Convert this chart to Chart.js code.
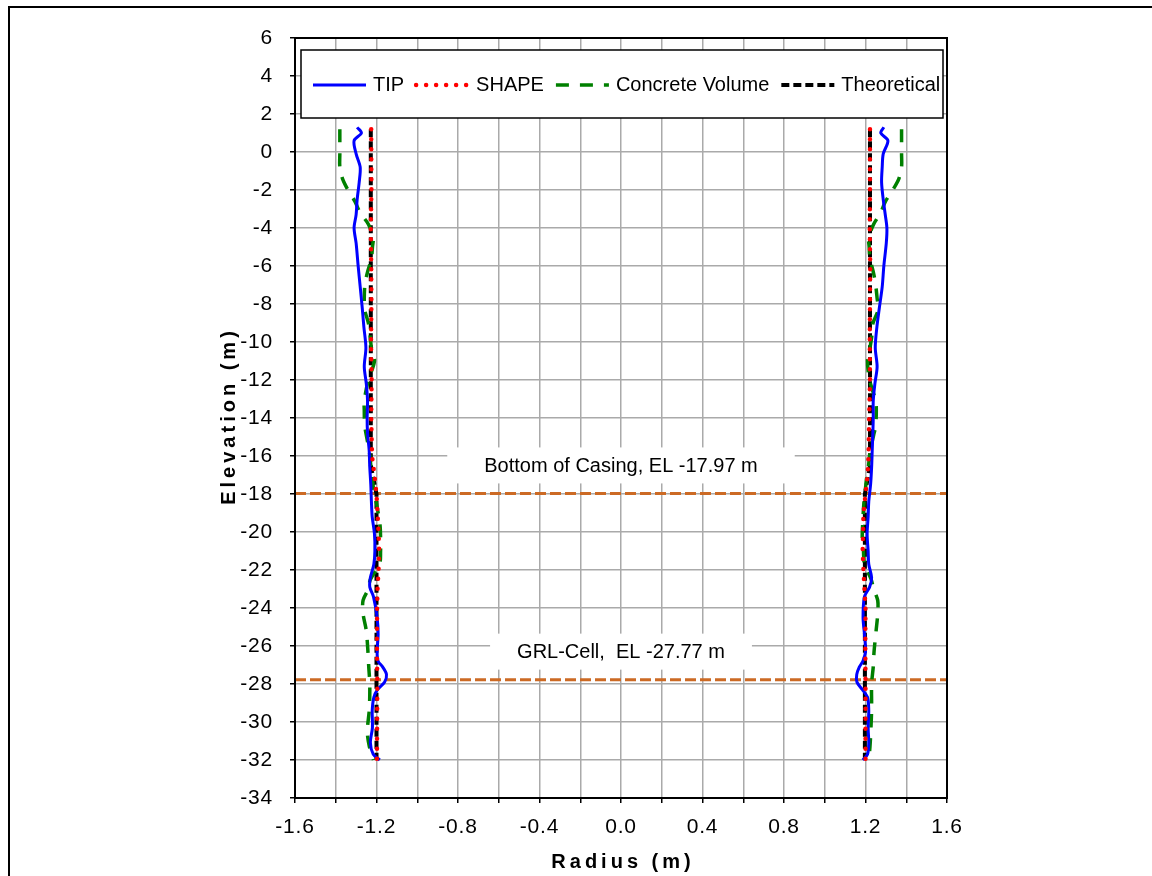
<!DOCTYPE html>
<html>
<head>
<meta charset="utf-8">
<title>Radius vs Elevation</title>
<script src="https://cdn.jsdelivr.net/npm/chart.js@4.4.1/dist/chart.umd.min.js"></script>
<style>
  html, body { margin: 0; padding: 0; background: #fff; overflow: hidden; }
  #marco { position: absolute; left: 8px; top: 6px; width: 1200px; height: 900px; border: 2px solid #000; }
  #grafico { position: absolute; left: 0; top: 0; }
</style>
</head>
<body>
<div id="marco"></div>
<canvas id="grafico" width="1152" height="876"></canvas>
<script>
//* nombres de las series
const nombresSeries = ['TIP', 'SHAPE', 'Concrete Volume', 'Theoretical'];

//* TIP: elevación (m) y radio izquierdo / derecho (m)
const tipElev = [1.3, 1.0, 0.6, -0.1, -0.8, -1.6, -2.5, -3.3, -4.0, -4.8, -6.0, -7.1, -8.2, -9.2, -10.3,
    -11.3, -12.2, -13.1, -14.0, -14.8, -15.7, -16.6, -17.5, -18.4, -19.2, -20.1, -21.0, -21.7, -22.4,
    -22.9, -23.4, -24.5, -25.4, -26.3, -26.8, -27.1, -27.5, -27.9, -28.3, -28.7, -29.4, -30.3, -31.1,
    -31.7, -32.0];
const tipIzq = [-1.295, -1.274, -1.31, -1.30, -1.28, -1.285, -1.295, -1.30, -1.31, -1.30, -1.29, -1.28,
    -1.27, -1.262, -1.252, -1.26, -1.25, -1.244, -1.246, -1.244, -1.236, -1.233, -1.228, -1.225, -1.221,
    -1.21, -1.208, -1.213, -1.23, -1.233, -1.215, -1.197, -1.192, -1.197, -1.192, -1.17, -1.151, -1.16,
    -1.195, -1.213, -1.221, -1.22, -1.23, -1.216, -1.184];
const tipDer = [1.29, 1.275, 1.31, 1.287, 1.282, 1.279, 1.287, 1.297, 1.305, 1.302, 1.29, 1.282, 1.268,
    1.256, 1.248, 1.257, 1.246, 1.238, 1.238, 1.236, 1.233, 1.23, 1.225, 1.216, 1.213, 1.208, 1.213,
    1.216, 1.23, 1.22, 1.195, 1.188, 1.195, 1.2, 1.187, 1.17, 1.157, 1.158, 1.185, 1.21, 1.216, 1.213,
    1.216, 1.21, 1.187];

//* SHAPE
const shapeElev = [1.2, -2, -4, -6, -8, -10, -12, -14, -16, -17, -18, -19, -20, -21, -22, -23, -24, -26,
    -28, -30, -32];
const shapeIzq = [-1.226, -1.225, -1.228, -1.226, -1.225, -1.227, -1.224, -1.226, -1.222, -1.21, -1.2,
    -1.195, -1.19, -1.187, -1.19, -1.195, -1.197, -1.198, -1.196, -1.197, -1.198];
const shapeDer = [1.222, 1.222, 1.221, 1.223, 1.222, 1.221, 1.222, 1.218, 1.215, 1.21, 1.2, 1.19, 1.188,
    1.186, 1.19, 1.195, 1.2, 1.199, 1.2, 1.2, 1.2];

//* Concrete Volume
const concretoElev = [1.2, 0.5, -0.1, -0.8, -1.4, -2.0, -2.6, -3.2, -3.8, -4.5, -5.0, -5.6, -6.4, -7.0,
    -7.7, -8.3, -9.0, -9.6, -10.3, -11.0, -12.0, -13.1, -13.6, -14.4, -14.9, -15.8, -16.5, -17.2, -17.7,
    -18.5, -19.6, -20.3, -21.0, -21.7, -22.5, -23.0, -23.6, -24.3, -25.2, -26.3, -27.1, -28.0, -29.3,
    -30.5, -31.3, -32.0];
const concretoIzq = [-1.38, -1.38, -1.38, -1.38, -1.367, -1.34, -1.306, -1.28, -1.24, -1.216, -1.22,
    -1.225, -1.246, -1.257, -1.26, -1.258, -1.24, -1.232, -1.225, -1.21, -1.24, -1.26, -1.26, -1.258,
    -1.25, -1.235, -1.228, -1.22, -1.215, -1.2, -1.183, -1.18, -1.18, -1.185, -1.23, -1.24, -1.266,
    -1.266, -1.25, -1.242, -1.238, -1.233, -1.235, -1.245, -1.235, -1.215];
const concretoDer = [1.377, 1.377, 1.377, 1.377, 1.364, 1.334, 1.298, 1.274, 1.24, 1.216, 1.218, 1.222,
    1.24, 1.25, 1.257, 1.262, 1.237, 1.232, 1.222, 1.21, 1.22, 1.25, 1.253, 1.25, 1.24, 1.222, 1.215,
    1.205, 1.2, 1.192, 1.186, 1.184, 1.19, 1.195, 1.228, 1.24, 1.26, 1.26, 1.252, 1.242, 1.238, 1.23,
    1.23, 1.226, 1.222, 1.216];

//* Theoretical
const teoricoElev = [1.2, -16.5, -18.0, -32];
const teoricoIzq = [-1.228, -1.228, -1.2, -1.2];
const teoricoDer = [1.222, 1.222, 1.197, 1.197];

//* líneas de referencia
const elevCamisa = -17.97;
const elevCelda = -27.77;
const textosReferencia = ['Bottom of Casing, EL -17.97 m', 'GRL-Cell,  EL -27.77 m'];
const limitesRadio = [-1.6, 1.6];
const limitesElev = [-34, 6];

const fuente = '"Liberation Sans", Arial, sans-serif';

//* estilos de cada serie
const estilos = [
    { borderColor: '#0000ff', borderWidth: 3, borderDash: [], borderCapStyle: 'butt', tension: 0.3, order: 2 },
    { borderColor: '#ff0000', borderWidth: 4.5, borderDash: [0, 10], borderCapStyle: 'round', tension: 0, order: 1 },
    { borderColor: '#008000', borderWidth: 3.5, borderDash: [13, 11], borderCapStyle: 'butt', tension: 0.3, order: 3 },
    { borderColor: '#000000', borderWidth: 4, borderDash: [8, 4], borderCapStyle: 'butt', tension: 0, order: 4 }
];

function puntos(elev, radio) {
    return elev.map((y, i) => ({ x: radio[i], y: y }));
}

const ramas = [
    [tipElev, tipIzq, tipDer],
    [shapeElev, shapeIzq, shapeDer],
    [concretoElev, concretoIzq, concretoDer],
    [teoricoElev, teoricoIzq, teoricoDer]
];

const datasets = [];
ramas.forEach((r, i) => {
    [r[1], r[2]].forEach(radio => {
        datasets.push(Object.assign({
            label: nombresSeries[i],
            data: puntos(r[0], radio),
            showLine: true,
            pointRadius: 0,
            fill: false
        }, estilos[i]));
    });
});

//* líneas naranjas horizontales
[elevCamisa, elevCelda].forEach(elev => {
    datasets.push({
        label: 'ref',
        data: limitesRadio.map(x => ({ x: x, y: elev })),
        showLine: true,
        pointRadius: 0,
        borderColor: '#cc6a24',
        borderWidth: 3,
        borderDash: [11, 4],
        order: 6
    });
});

//* espaciado de letras para los números de los ejes
const espaciado = {
    id: 'espaciado',
    beforeDraw(chart) {
        chart.ctx.letterSpacing = '0.8px';
    }
};

//* cajas de texto de las líneas de referencia y marco del área
const anotaciones = {
    id: 'anotaciones',
    afterDatasetsDraw(chart) {
        const ctx = chart.ctx;
        const a = chart.chartArea;
        const ys = chart.scales.y;
        const cx = (a.left + a.right) / 2;
        ctx.save();
        ctx.letterSpacing = '0px';
        ctx.font = '20px ' + fuente;
        ctx.textAlign = 'center';
        ctx.textBaseline = 'middle';
        [elevCamisa, elevCelda].forEach((elev, i) => {
            const ty = ys.getPixelForValue(elev) - 28;
            const w = ctx.measureText(textosReferencia[i]).width;
            const pad = i === 0 ? 37 : 27;
            ctx.fillStyle = '#fff';
            ctx.fillRect(cx - w / 2 - pad, ty - 18, w + pad * 2, 36);
            ctx.fillStyle = '#000';
            ctx.fillText(textosReferencia[i], cx, ty + 1);
        });
        ctx.lineWidth = 2;
        ctx.strokeStyle = '#000';
        ctx.strokeRect(a.left, a.top, a.right - a.left, a.bottom - a.top);
        ctx.restore();
    }
};

//* leyenda dentro del área y títulos de los ejes
const leyendaInterna = {
    id: 'leyendaInterna',
    afterDraw(chart) {
        const ctx = chart.ctx;
        const a = chart.chartArea;
        ctx.save();
        ctx.letterSpacing = '0px';
        ctx.fillStyle = '#fff';
        ctx.fillRect(301, 50, 642, 68);
        ctx.lineWidth = 1.5;
        ctx.strokeStyle = '#000';
        ctx.strokeRect(301, 50, 642, 68);

        ctx.font = '20px ' + fuente;
        ctx.textBaseline = 'middle';
        let x = 313;
        const y = 85;
        nombresSeries.forEach((nombre, i) => {
            const e = estilos[i];
            ctx.beginPath();
            ctx.setLineDash(e.borderDash);
            ctx.lineCap = e.borderCapStyle;
            ctx.lineWidth = e.borderWidth;
            ctx.strokeStyle = e.borderColor;
            ctx.moveTo(x, y);
            ctx.lineTo(x + 53, y);
            ctx.stroke();
            ctx.setLineDash([]);
            ctx.fillStyle = '#000';
            ctx.textAlign = 'left';
            ctx.fillText(nombre, x + 60, y);
            x += 60 + ctx.measureText(nombre).width + 12;
        });

        //* títulos de ejes
        ctx.font = 'bold 20px ' + fuente;
        ctx.letterSpacing = '4px';
        ctx.textAlign = 'center';
        ctx.fillStyle = '#000';
        ctx.fillText('Radius (m)', (a.left + a.right) / 2 + 2, 862);
        ctx.translate(229, (a.top + a.bottom) / 2);
        ctx.rotate(-Math.PI / 2);
        ctx.fillText('Elevation (m)', 2, 0);
        ctx.restore();
    }
};

const lienzo = document.getElementById('grafico').getContext('2d');

new Chart(lienzo, {
    type: 'scatter',
    data: { datasets: datasets },
    plugins: [espaciado, anotaciones, leyendaInterna],
    options: {
        responsive: false,
        animation: false,
        layout: { padding: { left: 200, top: 38, right: 205, bottom: 0 } },
        plugins: {
            legend: { display: false },
            tooltip: { enabled: false }
        },
        scales: {
            x: {
                type: 'linear',
                position: 'bottom',
                min: limitesRadio[0],
                max: limitesRadio[1],
                afterFit: s => { s.height = 78; },
                ticks: {
                    stepSize: 0.2,
                    autoSkip: false,
                    maxRotation: 0,
                    padding: 12,
                    color: '#000',
                    font: { family: fuente, size: 21 },
                    callback: v => {
                        const d = Math.round(v * 10);
                        return d % 4 === 0 ? (d / 10).toFixed(1) : '';
                    }
                },
                grid: { color: '#aaaaaa', lineWidth: 1.5, tickColor: '#000', tickLength: 5, tickWidth: 1.5 },
                border: { display: false }
            },
            y: {
                type: 'linear',
                min: limitesElev[0],
                max: limitesElev[1],
                afterFit: s => { s.width = 95; },
                ticks: {
                    stepSize: 2,
                    autoSkip: false,
                    padding: 17,
                    color: '#000',
                    font: { family: fuente, size: 21 }
                },
                grid: { color: '#aaaaaa', lineWidth: 1.5, tickColor: '#000', tickLength: 5, tickWidth: 1.5 },
                border: { display: false }
            }
        }
    }
});
</script>
</body>
</html>
